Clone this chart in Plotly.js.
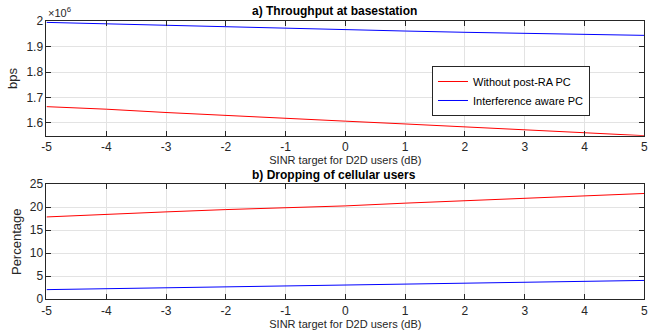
<!DOCTYPE html>
<html>
<head>
<meta charset="utf-8">
<script src="https://cdn.plot.ly/plotly-3.0.1.min.js"></script>
<style>html,body{margin:0;padding:0;background:#fff}#chart{width:668px;height:335px}</style>
</head>
<body>
<div id="chart"></div>
<script>
const sinr = [-5, -4, -3, -2, -1, 0, 1, 2, 3, 4, 5];
const thrWithout = [1.664e6, 1.654e6, 1.641e6, 1.629e6, 1.618e6, 1.607e6, 1.596e6, 1.584e6, 1.573e6, 1.562e6, 1.550e6];
const thrAware = [1.995e6, 1.989e6, 1.984e6, 1.978e6, 1.972e6, 1.966e6, 1.961e6, 1.956e6, 1.952e6, 1.948e6, 1.944e6];
const dropWithout = [17.9, 18.5, 19.0, 19.5, 19.9, 20.3, 20.9, 21.4, 22.0, 22.5, 23.0];
const dropAware = [2.1, 2.3, 2.5, 2.75, 3.0, 3.2, 3.4, 3.6, 3.8, 4.0, 4.1];
const seriesNames = ['Without post-RA PC', 'Interference aware PC'];
const xTicks = [-5, -4, -3, -2, -1, 0, 1, 2, 3, 4, 5];
const xTickText = ['-5', '-4', '-3', '-2', '-1', '0', '1', '2', '3', '4', '5'];
const yTicksTop = [1.6e6, 1.7e6, 1.8e6, 1.9e6, 2.0e6];
const yTickTextTop = ['1.6', '1.7', '1.8', '1.9', '2'];
const yTicksBottom = [0, 5, 10, 15, 20, 25];

const FONT = 'Liberation Sans, Arial, Helvetica, sans-serif';
const axisCol = '#262626';

const traces = [
  {x: sinr, y: thrWithout, name: seriesNames[0], type: 'scatter', mode: 'lines', line: {color: '#ff0000', width: 1}, xaxis: 'x', yaxis: 'y'},
  {x: sinr, y: thrAware, name: seriesNames[1], type: 'scatter', mode: 'lines', line: {color: '#0000ff', width: 1}, xaxis: 'x', yaxis: 'y'},
  {x: sinr, y: dropWithout, name: seriesNames[0], type: 'scatter', mode: 'lines', line: {color: '#ff0000', width: 1}, xaxis: 'x2', yaxis: 'y2', showlegend: false},
  {x: sinr, y: dropAware, name: seriesNames[1], type: 'scatter', mode: 'lines', line: {color: '#0000ff', width: 1}, xaxis: 'x2', yaxis: 'y2', showlegend: false}
];

const common = {
  showline: true, linecolor: axisCol, linewidth: 1, mirror: 'ticks',
  ticks: 'inside', ticklen: 5, tickcolor: axisCol, tickwidth: 1,
  showgrid: true, gridcolor: '#e3e3e3', gridwidth: 1, zeroline: false,
  tickfont: {family: FONT, size: 12, color: axisCol}, automargin: false
};

const xTitle = {text: 'SINR target for D2D users (dB)', font: {family: FONT, size: 11, color: axisCol}, standoff: 1};

const layout = {
  width: 668, height: 335,
  margin: {l: 0, r: 0, t: 0, b: 0},
  paper_bgcolor: '#fff', plot_bgcolor: '#fff',
  showlegend: true,
  legend: {x: 0.6467, y: 0.803, xanchor: 'left', yanchor: 'top', bgcolor: '#fff', bordercolor: axisCol, borderwidth: 1,
    font: {family: FONT, size: 11, color: '#000'}, tracegroupgap: 0, itemwidth: 30},
  xaxis: Object.assign({}, common, {domain: [0.0696, 0.9645], anchor: 'y', range: [-5, 5], tickvals: xTicks, ticktext: xTickText, title: xTitle}),
  yaxis: Object.assign({}, common, {domain: [0.595, 0.937], anchor: 'x', range: [1.55e6, 2.0e6], tickvals: yTicksTop, ticktext: yTickTextTop,
    title: {text: 'bps', font: {family: FONT, size: 13, color: axisCol}, standoff: 5}}),
  xaxis2: Object.assign({}, common, {domain: [0.0696, 0.9645], anchor: 'y2', range: [-5, 5], tickvals: xTicks, ticktext: xTickText, title: xTitle}),
  yaxis2: Object.assign({}, common, {domain: [0.1066, 0.4499], anchor: 'x2', range: [0, 25], tickvals: yTicksBottom,
    title: {text: 'Percentage', font: {family: FONT, size: 13, color: axisCol}, standoff: 5}}),
  annotations: [
    {text: '<b>a) Throughput at basestation</b>', xref: 'paper', yref: 'paper', x: 0.5, y: 0.94, xanchor: 'center', yanchor: 'bottom', showarrow: false,
      font: {family: FONT, size: 12, color: '#000'}},
    {text: '<b>b) Dropping of cellular users</b>', xref: 'paper', yref: 'paper', x: 0.5, y: 0.452, xanchor: 'center', yanchor: 'bottom', showarrow: false,
      font: {family: FONT, size: 12, color: '#000'}},
    {text: '×10<sup>6</sup>', xref: 'paper', yref: 'paper', x: 0.0696, y: 0.937, xanchor: 'left', yanchor: 'bottom', showarrow: false,
      font: {family: FONT, size: 11, color: axisCol}}
  ]
};

Plotly.newPlot('chart', traces, layout, {displayModeBar: false, staticPlot: true});
</script>
</body>
</html>
